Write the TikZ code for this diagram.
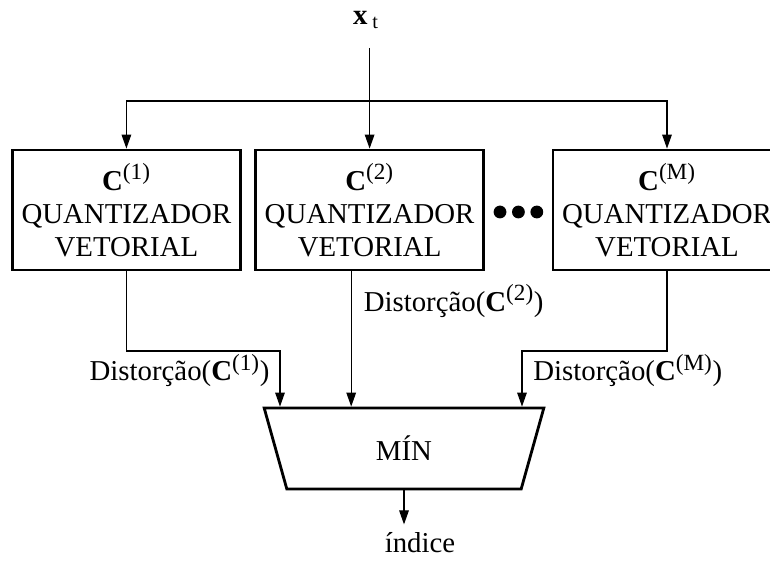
\documentclass[tikz,border=0pt]{standalone}
\usepackage{fontspec}
\setmainfont{Liberation Serif}
\usepackage{tikz}
\usetikzlibrary{arrows.meta,positioning,shapes.geometric,calc}
\newcommand{\diagfont}{\fontsize{20.5}{23.5}\selectfont}
\newcommand{\csup}[1]{\textsuperscript{\fontsize{16.5}{16.5}\selectfont #1}}

\begin{document}
\begin{tikzpicture}[
    box/.style={rectangle, draw, line width=2pt, minimum width=5.7cm, minimum height=3cm, align=center, inner sep=0pt, font=\diagfont},
    minbox/.style={trapezium, draw, line width=2pt, shape border rotate=180, trapezium angle=79.5, trapezium stretches=true, minimum width=7cm, minimum height=2.025cm, font=\diagfont},
    arrow/.style={-{Triangle[length=3.5mm,width=2.4mm]}, line width=0.8pt},
    lbl/.style={font=\diagfont, inner sep=0pt}
]
    \clip (0,0) rectangle (19.25,14.025);

    % Nodes
    \node[lbl] (xt) at (9.15,13.525) {\textbf{x}\,\textsubscript{t}};
    \node[box] (q1) at (3.16,8.775) {\textbf{C}\csup{(1)}\\QUANTIZADOR\\VETORIAL};
    \node[box] (q2) at (9.24,8.775) {\textbf{C}\csup{(2)}\\QUANTIZADOR\\VETORIAL};
    \node[box] (q3) at (16.675,8.775) {\textbf{C}\csup{(M)}\\QUANTIZADOR\\VETORIAL};
    \node[minbox] (mn) at (10.1,2.8125) {MÍN};
    \node[lbl] (idx) at (10.5,0.45) {índice};

    \foreach \x in {12.5,12.96,13.42}
        \fill (\x,8.725) circle (0.16);

    \coordinate (src) at (9.24,12.825);
    \coordinate (bus) at (9.24,11.5);
    \coordinate (in1) at (7.0,5.25);
    \coordinate (in3) at (13.05,5.25);
    \coordinate (o2) at ([xshift=-4.6mm]q2.south);
    \path (mn.south) ++(0,-0.85) coordinate (out);

    % Arrows
    \draw[arrow] (src) -- (q2.north);
    \draw[arrow] (bus) -| (q1.north);
    \draw[arrow] (bus) -| (q3.north);
    \draw[arrow] (q1.south) |- (in1) -- node[lbl, left=2.5mm, pos=0.35] (d1) {Distorção(\textbf{C}\csup{(1)})} (in1 |- mn.north);
    \draw[arrow] (o2) -- node[lbl, right=3mm, pos=0.22] (d2) {Distorção(\textbf{C}\csup{(2)})} (o2 |- mn.north);
    \draw[arrow] (q3.south) |- (in3) -- node[lbl, right=2.7mm, pos=0.35] (d3) {Distorção(\textbf{C}\csup{(M)})} (in3 |- mn.north);
    \draw[arrow] (mn.south) -- (out);
\end{tikzpicture}
\end{document}
